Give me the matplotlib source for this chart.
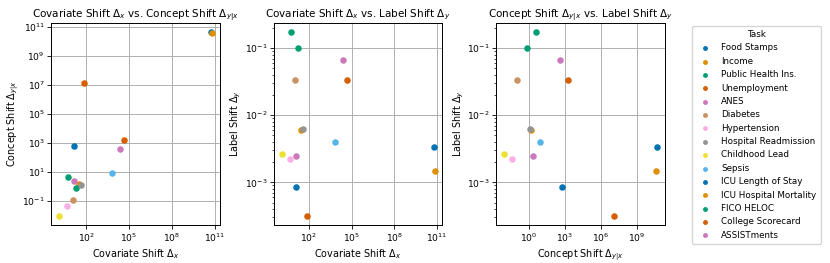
import matplotlib
matplotlib.use("Agg")
import matplotlib.pyplot as plt
from matplotlib.ticker import LogLocator, NullFormatter
import seaborn as sns
import numpy as np

tasks = ["Food Stamps", "Income", "Public Health Ins.", "Unemployment", "ANES",
         "Diabetes", "Hypertension", "Hospital Readmission", "Childhood Lead", "Sepsis",
         "ICU Length of Stay", "ICU Hospital Mortality", "FICO HELOC", "College Scorecard",
         "ASSISTments"]

# log10 values
log_dx = [1.13, 1.46, 1.27, 1.87, 4.38, 1.06, 0.65, 1.62, 0.09, 3.81, 10.77, 10.84, 0.72, 4.65, 1.11]
log_dyx = [2.80, 0.18, -0.13, 7.12, 2.61, -0.97, -1.38, 0.13, -2.04, 0.93, 10.66, 10.60, 0.62, 3.23, 0.36]
log_dy = [-3.07, -2.22, -1.00, -3.50, -1.17, -1.47, -2.65, -2.21, -2.58, -2.40, -2.47, -2.83, -0.76, -1.47, -2.60]

dx = 10.0 ** np.array(log_dx)
dyx = 10.0 ** np.array(log_dyx)
dy = 10.0 ** np.array(log_dy)

colors = sns.color_palette("colorblind", 10)

plt.rcParams["font.size"] = 6.6
plt.rcParams["axes.linewidth"] = 0.7
plt.rcParams["xtick.major.width"] = 0.6
plt.rcParams["ytick.major.width"] = 0.6
plt.rcParams["xtick.minor.width"] = 0.5
plt.rcParams["ytick.minor.width"] = 0.5
plt.rcParams["xtick.major.size"] = 2.8
plt.rcParams["ytick.major.size"] = 2.8
plt.rcParams["xtick.minor.size"] = 1.6
plt.rcParams["ytick.minor.size"] = 1.6

fig, axes = plt.subplots(1, 3, figsize=(8.3, 2.63), dpi=100)
plt.subplots_adjust(left=0.062, right=0.801, top=0.913, bottom=0.144, wspace=0.32)

pairs = [(dx, dyx, r"Covariate Shift $\Delta_x$", r"Concept Shift $\Delta_{y|x}$"),
         (dx, dy, r"Covariate Shift $\Delta_x$", r"Label Shift $\Delta_y$"),
         (dyx, dy, r"Concept Shift $\Delta_{y|x}$", r"Label Shift $\Delta_y$")]

for ax, (xs, ys, xl, yl) in zip(axes, pairs):
    for i, t in enumerate(tasks):
        ax.scatter(xs[i], ys[i], color=colors[i % 10], s=22, label=t, zorder=3, linewidths=0)
    ax.set_xscale("log")
    ax.set_yscale("log")
    ax.xaxis.set_major_locator(LogLocator(base=10, numticks=5))
    ax.xaxis.set_minor_formatter(NullFormatter())
    ax.yaxis.set_minor_formatter(NullFormatter())
    ax.set_xlabel(xl, fontsize=6.9, labelpad=2)
    ax.set_ylabel(yl, fontsize=6.9, labelpad=1)
    ax.set_title(xl + " vs. " + yl, fontsize=7.5, pad=4)
    ax.tick_params(labelsize=6.6, pad=2)
    ax.grid(True, color="#b0b0b0", linewidth=0.7)
    ax.set_axisbelow(True)

axes[0].yaxis.set_major_locator(LogLocator(base=10, numticks=8))

handles, labels = axes[0].get_legend_handles_labels()
fig.legend(handles, labels, title="Task", loc="center left", bbox_to_anchor=(0.828, 0.487),
           fontsize=6.3, title_fontsize=6.3, frameon=True, labelspacing=0.5,
           handletextpad=0.9, borderpad=0.5, markerscale=0.75)

plt.savefig("out.png", dpi=100)
